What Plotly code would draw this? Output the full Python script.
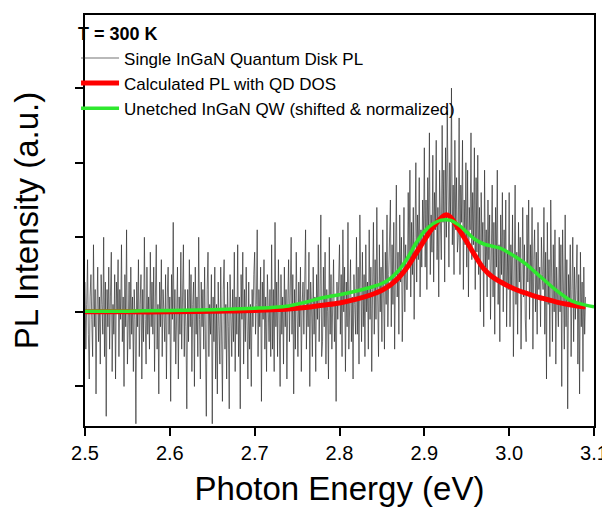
import plotly.graph_objects as go

# ---- data ----
pl_start = 2.5
pl_step = 0.001
pl_values = [
    0.4, -0.5, 0.1, 0.7, -0.3, -0.9, 0.2, 0.5, -0.1, -0.6, 0.9, -0.2, 0.3, -1.1, 0.0, 0.6, -0.4, 0.2, -0.7, 0.5,
    0.1, -0.3, 1.0, -0.6, 0.4, -1.4, 0.3, -0.2, 0.6, -0.5, 0.2, 0.8, -0.8, 0.1, -0.3, 0.5, -0.9, 0.4, 0.0, 0.7,
    -0.6, 0.3, -0.1, 0.9, -0.4, 0.2, -1.0, 0.5, -0.2, 1.1, -0.7, 0.0, 0.4, -0.5, 0.6, -0.3, 0.2, -0.8, 0.3, -0.1,
    -1.5, 0.4, -0.2, 0.7, -0.6, 0.1, 0.5, -0.9, 0.3, -0.4, 1.0, -0.1, -0.7, 0.6, -0.3, 0.2, -0.5, 0.8, -0.2, 0.4,
    -0.3, 0.6, -0.8, 0.2, 0.9, -0.5, 0.1, -1.1, 0.4, -0.2, 0.7, -0.6, 0.3, 0.0, -0.4, 0.5, -0.9, 0.2, 0.6, -0.3,
    0.2, -1.2, 0.5, -0.1, 1.2, -0.4, 0.3, -0.7, 0.0, 0.6, -0.9, 0.2, -0.3, 0.8, -0.5, 0.1, 0.9, -0.6, 0.3, -0.2,
    -1.3, 0.3, -0.4, 0.7, -0.2, 0.5, -0.8, 0.1, 0.4, -1.0, 0.6, -0.3, 0.2, -0.6, 1.0, -0.1, -0.9, 0.4, -0.2, 0.3,
    -0.5, 0.6, -0.2, -1.4, 0.3, 0.8, -0.6, 0.1, -0.3, 0.5, -1.5, 0.2, -0.4, 0.6, -0.9, 0.1, -1.1, 0.4, -0.2, -0.7,
    0.6, -0.4, -1.2, 0.3, 0.7, -0.5, 0.1, -0.9, 0.4, -0.2, -1.3, 0.5, 0.0, -0.6, 0.3, -0.4, 0.8, -0.8, 0.2, -0.3,
    0.9, -0.6, 0.2, -1.3, 0.5, -0.1, 0.8, -0.7, 0.3, -0.4, 0.6, -0.2, -0.9, 0.4, -0.5, 0.1, -1.0, 0.3, -0.2, 0.5,
    0.8, -0.3, 0.1, 1.1, -0.6, 0.3, -0.2, 0.6, -1.2, 0.4, -0.1, 0.7, -0.5, 0.2, -0.8, 0.5, 0.0, -0.4, 0.3, -0.6,
    0.9, -0.5, 0.3, -0.8, 1.2, -0.2, 0.4, -0.6, 0.7, -0.1, -1.0, 0.5, -0.3, 0.2, -0.7, 0.6, -0.2, 0.3, -0.9, 0.1,
    0.7, -0.4, 0.2, 1.0, -0.3, 0.5, -1.1, 0.3, -0.5, 0.8, 0.0, -0.6, 0.4, -0.2, 0.6, -0.8, 0.1, 0.4, -0.3, 0.5,
    1.1, -0.5, 0.3, -0.2, 0.8, -1.0, 0.4, 0.1, -0.6, 0.6, -0.3, 0.2, -0.8, 0.5, -0.1, 0.9, -0.4, 0.2, 1.3, -0.6,
    -0.4, 0.6, -0.2, 0.8, -0.7, 0.3, 0.0, -0.9, 1.0, -0.3, 0.5, -0.5, 0.2, 0.7, -0.4, 0.1, -1.2, 0.4, -0.1, 0.6,
    0.9, -0.3, 0.5, -0.6, 1.1, 0.0, 0.6, -0.8, 0.4, -0.2, 1.2, -0.5, 0.3, 0.7, -0.4, 0.2, -0.9, 0.5, 0.1, -0.3,
    1.0, -0.3, 0.6, -0.7, 1.3, 0.1, -0.4, 0.8, -0.2, 0.5, -0.6, 0.9, 0.0, 0.4, -0.5, 1.1, -0.1, 0.6, -0.8, 0.3,
    1.2, -0.3, 0.7, -0.1, 1.4, 0.2, -0.6, 0.9, 0.0, 0.6, -0.4, 1.1, 0.3, -0.5, 0.8, 0.1, 1.3, -0.2, 0.5, 0.9,
    1.5, -0.2, 0.9, 0.1, 1.2, -0.5, 0.7, 1.7, 0.2, 0.8, -0.3, 1.3, 0.4, 1.0, -0.4, 0.6, 1.4, 0.0, 0.9, 0.3,
    0.3, 1.6, 0.6, 1.9, 0.2, 1.2, 0.5, 1.4, -0.1, 1.0, 2.0, 0.4, 1.3, 0.7, 1.8, 0.2, 1.1, 0.6, 1.5, 0.9,
    2.2, 0.6, 1.5, 0.3, 1.8, 1.0, 2.4, 0.5, 1.3, 0.8, 2.1, 0.4, 1.6, 1.1, 2.3, 0.7, 1.4, 0.2, 1.9, 1.2,
    0.7, 2.5, 1.2, 1.9, 0.4, 2.2, 1.0, 2.7, 1.5, 0.6, 2.0, 1.3, 3.0, 0.9, 1.7, 0.5, 2.3, 1.1, 1.8, 0.8,
    1.0, 2.6, 0.5, 1.7, 1.2, 2.3, 0.3, 1.5, 0.9, 2.0, 0.6, 1.9, 0.2, 1.4, 1.1, 2.4, 0.7, 1.6, 0.9, 2.2,
    0.3, 1.8, 0.8, 2.1, 0.5, 1.4, 0.0, 1.6, 0.9, 1.2, -0.2, 1.9, 0.6, 1.1, 0.2, 1.5, 0.7, 1.3, -0.1, 1.0,
    1.7, 0.2, 1.2, -0.3, 1.4, 0.6, 1.9, 0.1, 0.9, -0.4, 1.3, 0.5, 1.6, 0.0, 1.1, 0.4, 1.5, -0.2, 0.8, 0.3,
    1.6, -0.2, 0.9, 0.3, 1.3, -0.6, 0.7, 1.7, 0.1, 0.8, -0.3, 1.2, 0.4, 1.0, -0.5, 0.6, 1.4, 0.2, 0.9, -0.1,
    -0.4, 1.3, 0.4, 1.5, -0.1, 0.9, 0.2, 1.4, -0.5, 0.7, 1.1, 0.0, 0.8, -0.3, 1.2, 0.3, 0.6, -0.2, 1.0, 0.5,
    0.3, 1.4, -0.3, 0.8, -0.9, 1.2, 0.1, 0.7, -0.6, 1.5, 0.2, -0.4, 0.9, 0.0, 1.1, -0.7, 0.6, 0.2, -0.2, 1.0,
    0.0, 0.9, -1.0, 1.1, 0.4, -0.5, 1.3, -0.2, 0.7, -1.3, 0.5, 0.1, 0.9, -0.6, 0.3, 1.0, -0.4, 0.6, -0.1, 0.8,
    0.9, -0.7, 0.5, -1.1, 0.8, -0.2, 0.4, -0.8, 0.6, -0.3, 0.2,
]
pl_energy = [round(pl_start + pl_step * i, 4) for i in range(len(pl_values))]

calc_energy = [2.50, 2.55, 2.60, 2.65, 2.70, 2.72, 2.74, 2.76, 2.78, 2.80, 2.82, 2.84,
               2.85, 2.86, 2.87, 2.88, 2.89, 2.90, 2.91, 2.92, 2.925, 2.93, 2.94, 2.95,
               2.96, 2.97, 2.98, 2.99, 3.00, 3.01, 3.02, 3.03, 3.04, 3.05, 3.06, 3.07,
               3.08, 3.09]
calc_pl = [0.0, 0.0, 0.0, 0.01, 0.02, 0.03, 0.04, 0.06, 0.09, 0.12, 0.17, 0.24,
           0.29, 0.36, 0.46, 0.60, 0.78, 0.96, 1.13, 1.26, 1.30, 1.28, 1.12, 0.94,
           0.75, 0.58, 0.47, 0.40, 0.34, 0.29, 0.25, 0.21, 0.18, 0.15, 0.12, 0.10,
           0.08, 0.07]

qw_energy = [2.50, 2.55, 2.60, 2.65, 2.70, 2.72, 2.74, 2.76, 2.78, 2.80, 2.82, 2.84,
             2.85, 2.86, 2.87, 2.88, 2.89, 2.90, 2.91, 2.92, 2.93, 2.94, 2.95, 2.96,
             2.97, 2.98, 2.99, 3.00, 3.01, 3.02, 3.03, 3.04, 3.05, 3.06, 3.07, 3.08,
             3.09, 3.10]
qw_pl = [0.01, 0.01, 0.02, 0.03, 0.05, 0.06, 0.08, 0.13, 0.19, 0.23, 0.28, 0.34,
         0.38, 0.45, 0.56, 0.72, 0.92, 1.08, 1.18, 1.23, 1.23, 1.17, 1.07, 0.97,
         0.91, 0.88, 0.85, 0.79, 0.72, 0.64, 0.54, 0.44, 0.34, 0.25, 0.17, 0.12,
         0.09, 0.07]

x_ticks = [2.5, 2.6, 2.7, 2.8, 2.9, 3.0, 3.1]
y_ticks = [-1, 0, 1, 2, 3]

FONT = "Arial, Liberation Sans, sans-serif"

fig = go.Figure()
fig.add_trace(go.Scatter(
    x=pl_energy, y=pl_values, mode="lines",
    name="Single InGaN Quantum Disk PL",
    line=dict(color="rgba(40,40,40,0.65)", width=1),
))
fig.add_trace(go.Scatter(
    x=calc_energy, y=calc_pl, mode="lines",
    name="Calculated PL with QD DOS",
    line=dict(color="#ff0000", width=5, shape="spline"),
))
fig.add_trace(go.Scatter(
    x=qw_energy, y=qw_pl, mode="lines",
    name="Unetched InGaN QW (shifted & normalized)",
    line=dict(color="#2ee82e", width=3.5, shape="spline"),
))

# page body adds an 8px offset, so the figure is 8px smaller than the window
fig.update_layout(
    width=602, height=508,
    margin=dict(l=77, r=16, t=7, b=90),
    paper_bgcolor="white", plot_bgcolor="white",
    font=dict(family=FONT, color="black"),
    showlegend=True,
    legend=dict(
        x=-0.0176, y=0.995, xanchor="left", yanchor="top",
        bgcolor="rgba(0,0,0,0)",
        title=dict(text="<b>T = 300 K</b>", font=dict(size=18, family=FONT)),
        font=dict(size=17, family=FONT),
        itemwidth=38,
        tracegroupgap=0,
    ),
    xaxis=dict(
        range=[2.5, 3.1], tickvals=x_ticks, tickformat=".1f",
        ticks="outside", ticklen=8, tickwidth=1.5, tickcolor="black",
        showline=True, linecolor="black", linewidth=1.5, mirror=True,
        showgrid=False, zeroline=False, automargin=False,
        ticklabeloverflow="allow",
        tickfont=dict(size=20, family=FONT),
        title=dict(text="Photon Energy (eV)", font=dict(size=33, family=FONT), standoff=14),
    ),
    yaxis=dict(
        range=[-1.53, 3.98], tickvals=y_ticks, showticklabels=False,
        ticks="outside", ticklen=8, tickwidth=1.5, tickcolor="black",
        showline=True, linecolor="black", linewidth=1.5, mirror=True,
        showgrid=False, zeroline=False, automargin=False,
        title=dict(text="PL Intensity (a.u.)", font=dict(size=33, family=FONT), standoff=30),
    ),
)

fig.write_html("out.html")
